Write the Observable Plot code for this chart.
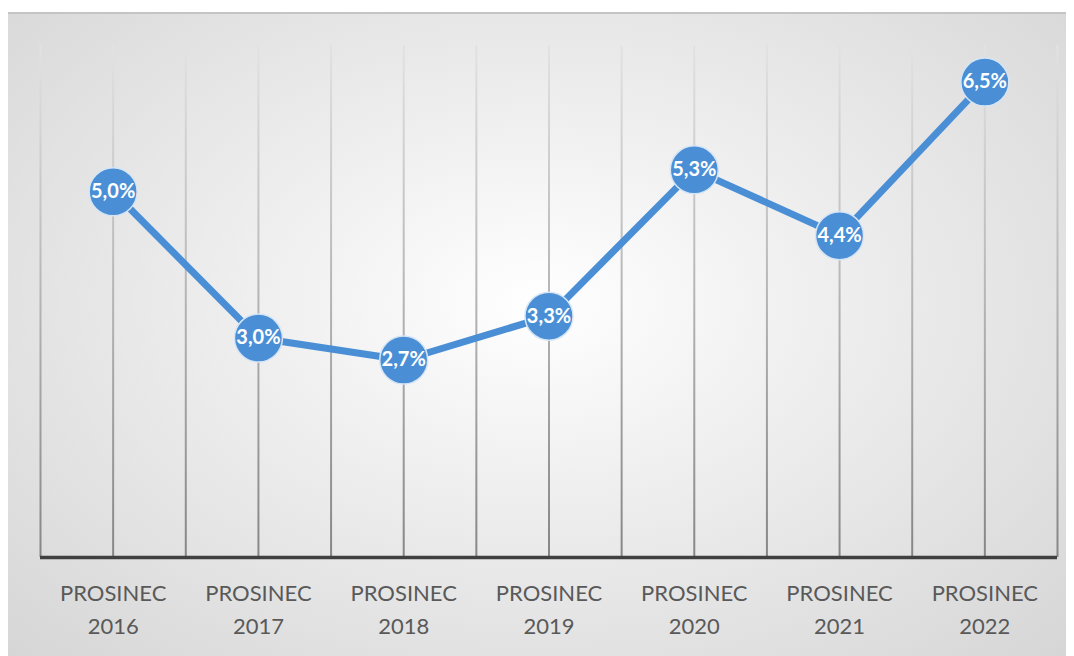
<!DOCTYPE html>
<html>
<head>
<meta charset="utf-8">
<script src="https://cdn.jsdelivr.net/npm/d3@7"></script>
<script src="https://cdn.jsdelivr.net/npm/@observablehq/plot@0.6"></script>
<style>
  html, body { margin: 0; padding: 0; background: #ffffff; }
  #frame {
    position: absolute; left: 8px; top: 12px; width: 1058px; height: 644px;
    background: radial-gradient(ellipse at 50% 45%, #ffffff 0%, #f0f0f0 35%, #d6d6d6 100%);
    border-top: 2px solid #c4c4c4;
    box-sizing: border-box;
  }
  #frame svg { position: absolute; left: 0; top: -2px; }
</style>
</head>
<body>
<div id="frame"></div>
<script>
const monthLabel = "PROSINEC";
const years = [2016, 2017, 2018, 2019, 2020, 2021, 2022];
const values = [5.0, 3.0, 2.7, 3.3, 5.3, 4.4, 6.5];
const yDomain = [0, 7];

const data = years.map((yr, i) => ({ i, year: yr, value: values[i] }));
const idx = years.map((_, i) => i);
const gridPositions = d3.range(-0.5, years.length, 0.5);

const chart = Plot.plot({
  width: 1058,
  height: 644,
  marginLeft: 32,
  marginRight: 9,
  marginTop: 33,
  marginBottom: 99,
  style: { background: "transparent", fontFamily: "Lato, 'Open Sans', sans-serif" },
  x: { domain: [-0.5, years.length - 0.5], axis: null },
  y: { domain: yDomain, axis: null },
  marks: [
    Plot.ruleX(gridPositions, { stroke: "url(#gridGrad)", strokeWidth: 2 }),
    Plot.ruleY([0], { stroke: "#404040", strokeWidth: 3.5 }),
    Plot.line(data, { x: "i", y: "value", stroke: "#4a8fd6", strokeWidth: 7 }),
    Plot.dot(data, { x: "i", y: "value", r: 24, fill: "#4a8fd6", stroke: "#d6e5f5", strokeWidth: 1.5 }),
    Plot.text(data, {
      x: "i", y: "value",
      text: d => d.value.toFixed(1).replace(".", ",") + "%",
      fill: "white", fontWeight: "bold", fontSize: 20
    }),
    Plot.axisX(idx, {
      label: null,
      tickSize: 0,
      tickPadding: 20,
      tickFormat: i => monthLabel + "\n" + years[i],
      fontSize: 22,
      lineHeight: 1.5,
      fill: "#595959"
    })
  ]
});

const ns = "http://www.w3.org/2000/svg";
const defs = document.createElementNS(ns, "defs");
defs.innerHTML = `<linearGradient id="gridGrad" gradientUnits="userSpaceOnUse" x1="0" y1="33" x2="0" y2="545">
  <stop offset="0" stop-color="#e2e2e2"/>
  <stop offset="1" stop-color="#868686"/>
</linearGradient>`;
chart.insertBefore(defs, chart.firstChild);
document.getElementById("frame").appendChild(chart);
</script>
</body>
</html>
